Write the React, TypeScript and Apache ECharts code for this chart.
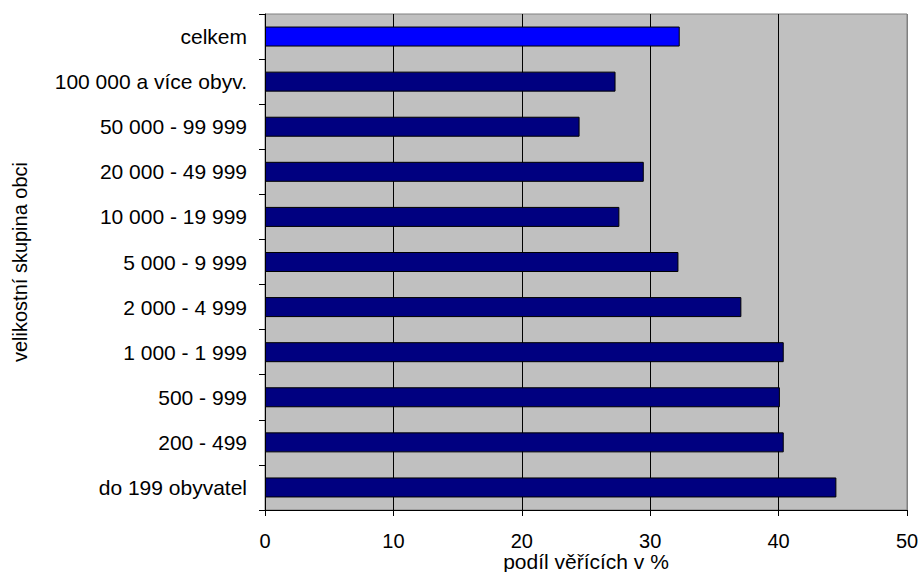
import React, { useEffect, useRef } from "react";
import * as echarts from "echarts";

const categories: string[] = [
  "celkem",
  "100 000 a více obyv.",
  "50 000 - 99 999",
  "20 000 - 49 999",
  "10 000 - 19 999",
  "5 000 - 9 999",
  "2 000 - 4 999",
  "1 000 - 1 999",
  "500 - 999",
  "200 - 499",
  "do 199 obyvatel",
];

const values: number[] = [32.3, 27.3, 24.5, 29.5, 27.6, 32.2, 37.1, 40.4, 40.1, 40.4, 44.5];

const xTicks = { min: 0, max: 50, interval: 10 };
const xAxisName = "podíl věřících v %";
const yAxisName = "velikostní skupina obci";

const FONT = "'Liberation Sans', Arial, sans-serif";

export default function App() {
  const ref = useRef<HTMLDivElement>(null);
  useEffect(() => {
    if (!ref.current) return;
    const chart = echarts.init(ref.current, null, { renderer: "svg" });
    chart.setOption({
      animation: false,
      backgroundColor: "#ffffff",
      textStyle: { fontFamily: FONT, color: "#000" },
      grid: {
        left: 265,
        right: 13,
        top: 14,
        bottom: 62,
        outerBoundsMode: "none",
        containLabel: false,
        show: true,
        backgroundColor: "#C0C0C0",
        borderColor: "#808080",
        borderWidth: 1,
      },
      xAxis: {
        type: "value",
        min: xTicks.min,
        max: xTicks.max,
        interval: xTicks.interval,
        name: xAxisName,
        nameLocation: "middle",
        nameGap: 41,
        nameMoveOverlap: false,
        nameTextStyle: { fontSize: 21, fontFamily: FONT, color: "#000" },
        axisLine: { show: true, lineStyle: { color: "#000", width: 1 } },
        axisTick: { show: true, length: 6, lineStyle: { color: "#000" } },
        axisLabel: { fontSize: 20, fontFamily: FONT, color: "#000", margin: 21 },
        splitLine: {
          show: true,
          lineStyle: { color: ["#000", "#000", "#000", "#000", "#000", "#808080"], width: 1 },
        },
      },
      yAxis: {
        type: "category",
        data: categories,
        inverse: true,
        name: yAxisName,
        nameLocation: "middle",
        nameRotate: 90,
        nameGap: 235,
        nameMoveOverlap: false,
        nameTextStyle: { fontSize: 20, fontFamily: FONT, color: "#000" },
        axisLine: { show: true, lineStyle: { color: "#000", width: 1 } },
        axisTick: { show: true, length: 6, alignWithLabel: false, lineStyle: { color: "#000" } },
        axisLabel: { fontSize: 21, fontFamily: FONT, color: "#000", margin: 18 },
        splitLine: { show: false },
      },
      series: [
        {
          type: "bar",
          data: values.map((v, i) => ({
            value: v,
            itemStyle: { color: i === 0 ? "#0000FF" : "#000080" },
          })),
          barWidth: 20,
          itemStyle: { borderColor: "#000", borderWidth: 1 },
        },
      ],
    });
    return () => chart.dispose();
  }, []);
  return <div ref={ref} style={{ width: 920, height: 572, position: "absolute", left: 0, top: 0 }} />;
}
